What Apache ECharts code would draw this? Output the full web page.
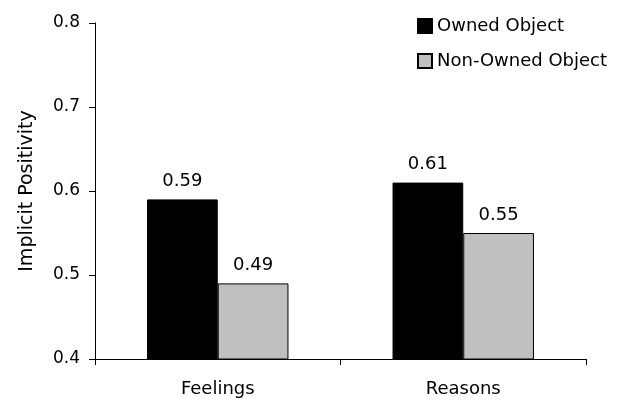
<!DOCTYPE html>
<html><head><meta charset="utf-8">
<script src="https://cdn.jsdelivr.net/npm/echarts@6/dist/echarts.min.js"></script>
<style>html,body{margin:0;padding:0;background:#fff}#c{width:617px;height:401px}</style>
</head><body><div id="c"></div>
<script>
const categories = ["Feelings", "Reasons"];
const ownedValues = [0.59, 0.61];
const nonOwnedValues = [0.49, 0.55];
const seriesNames = ["Owned Object", "Non-Owned Object"];
const yTicks = [0.4, 0.5, 0.6, 0.7, 0.8];

const font = "DejaVu Sans, Liberation Sans, Arial, sans-serif";
const fs = 18;
const chart = echarts.init(document.getElementById('c'));
chart.setOption({
  animation: false,
  backgroundColor: '#fff',
  textStyle: { fontFamily: font, color: '#000' },
  grid: { left: 95, right: 31, top: 23, bottom: 42 },
  legend: {
    orient: 'vertical', left: 417, top: 17, padding: 0,
    itemWidth: 14, itemHeight: 14, itemGap: 17,
    icon: 'rect',
    textStyle: { fontFamily: font, fontSize: fs, lineHeight: 18, color: '#000', padding: 0 },
    data: seriesNames
  },
  xAxis: {
    type: 'category', data: categories,
    axisLine: { lineStyle: { color: '#000', width: 1 } },
    axisTick: { show: true, length: 6, lineStyle: { color: '#000' } },
    axisLabel: { fontFamily: font, fontSize: fs, color: '#000', margin: 21 }
  },
  yAxis: {
    type: 'value', min: yTicks[0], max: yTicks[yTicks.length - 1], interval: 0.1,
    name: 'Implicit Positivity', nameLocation: 'middle', nameGap: 58,
    nameTextStyle: { fontFamily: font, fontSize: 19, color: '#000' },
    axisLine: { show: true, lineStyle: { color: '#000', width: 1 } },
    axisTick: { show: true, length: 6, lineStyle: { color: '#000' } },
    splitLine: { show: false },
    axisLabel: { fontFamily: font, fontSize: 17, color: '#000', margin: 15, formatter: v => v.toFixed(1) }
  },
  series: [
    {
      name: seriesNames[0], type: 'bar', data: ownedValues,
      barGap: '0%', barCategoryGap: '42.4%',
      itemStyle: { color: '#000', borderColor: '#000', borderWidth: 1 },
      label: { show: true, position: 'top', distance: 9, fontFamily: font, fontSize: fs, color: '#000', formatter: p => p.value.toFixed(2) }
    },
    {
      name: seriesNames[1], type: 'bar', data: nonOwnedValues,
      itemStyle: { color: '#c0c0c0', borderColor: '#000', borderWidth: 1 },
      label: { show: true, position: 'top', distance: 9, fontFamily: font, fontSize: fs, color: '#000', formatter: p => p.value.toFixed(2) }
    }
  ]
});
</script></body></html>
